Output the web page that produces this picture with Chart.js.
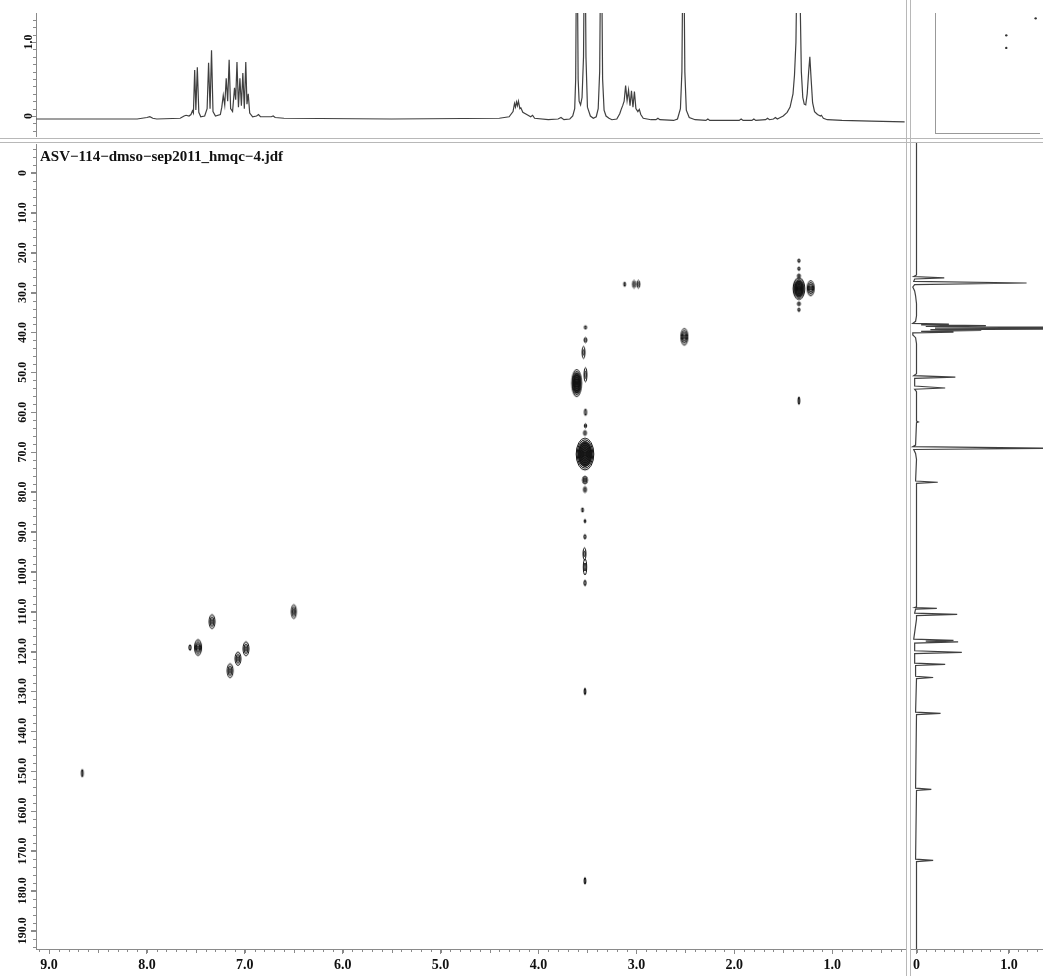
<!DOCTYPE html>
<html><head><meta charset="utf-8">
<script src="https://cdn.jsdelivr.net/npm/chart.js@4.4.1/dist/chart.umd.min.js"></script>
<style>
html,body{margin:0;padding:0;background:#fff;}
#wrap{position:relative;width:1043px;height:976px;overflow:hidden;background:#fff;}
canvas{position:absolute;}
.vl{position:absolute;top:0;height:976px;width:0;border-left:1px solid #b8b8b8;}
.hl{position:absolute;left:0;width:1043px;height:0;border-top:1px solid #b8b8b8;}
</style></head>
<body><div id="wrap">
<canvas id="top" width="910" height="140" style="left:0;top:0"></canvas>
<canvas id="main" width="910" height="836" style="left:0;top:140px"></canvas>
<canvas id="right" width="137" height="836" style="left:906px;top:140px"></canvas>
<canvas id="corner" width="137" height="140" style="left:906px;top:0"></canvas>
<div class="hl" style="top:138px"></div>
<div class="hl" style="top:142px"></div>
<div class="vl" style="left:906px"></div>
<div class="vl" style="left:910px"></div>
</div>
<script>
// ---------------- DATA ----------------
const fileName = 'ASV\u2212114\u2212dmso\u2212sep2011_hmqc\u22124.jdf';

// 1H (top projection): [shift ppm, intensity]
const protonTrace = [[9.13,-0.04],[8.10,-0.04],[8.00,-0.02],[7.97,-0.01],[7.94,-0.03],[7.90,-0.04],[7.66,-0.03],[7.62,0.00],[7.60,0.01],[7.57,0.00],[7.55,0.02],[7.535,0.07],[7.525,0.04],[7.512,0.62],[7.50,0.08],[7.485,0.66],[7.47,0.05],[7.45,-0.01],[7.41,0.00],[7.385,0.10],[7.37,0.72],[7.355,0.10],[7.34,0.89],[7.325,0.06],[7.30,0.00],[7.25,0.02],[7.235,0.12],[7.22,0.28],[7.205,0.15],[7.19,0.51],[7.175,0.20],[7.16,0.76],[7.145,0.10],[7.125,0.06],[7.105,0.38],[7.093,0.22],[7.08,0.73],[7.065,0.12],[7.05,0.51],[7.035,0.14],[7.02,0.58],[7.005,0.10],[6.99,0.73],[6.978,0.16],[6.965,0.30],[6.95,0.04],[6.92,-0.01],[6.88,0.00],[6.86,0.02],[6.84,-0.01],[6.73,-0.01],[6.71,0.00],[6.69,-0.02],[6.60,-0.03],[5.50,-0.04],[4.40,-0.03],[4.30,-0.01],[4.26,0.06],[4.245,0.17],[4.235,0.12],[4.225,0.19],[4.215,0.14],[4.205,0.20],[4.19,0.10],[4.18,0.11],[4.16,0.05],[4.12,0.02],[4.08,-0.01],[4.06,0.01],[4.04,-0.03],[3.90,-0.05],[3.80,-0.04],[3.77,-0.02],[3.74,-0.05],[3.68,-0.04],[3.65,0.00],[3.63,0.10],[3.62,0.50],[3.608,3.0],[3.595,0.50],[3.585,0.20],[3.57,0.15],[3.555,0.25],[3.54,0.80],[3.527,3.0],[3.515,0.80],[3.50,0.12],[3.49,0.08],[3.47,0.00],[3.44,-0.03],[3.41,-0.01],[3.39,0.10],[3.375,0.60],[3.36,3.0],[3.345,0.50],[3.33,0.08],[3.31,0.00],[3.28,-0.03],[3.25,-0.05],[3.20,-0.04],[3.17,0.03],[3.155,0.09],[3.14,0.14],[3.125,0.20],[3.11,0.41],[3.095,0.21],[3.08,0.35],[3.065,0.14],[3.05,0.34],[3.035,0.12],[3.02,0.33],[3.005,0.10],[2.985,0.06],[2.97,0.09],[2.955,0.02],[2.93,-0.03],[2.85,-0.05],[2.80,-0.05],[2.78,-0.03],[2.76,-0.05],[2.62,-0.06],[2.58,-0.04],[2.55,0.10],[2.535,0.60],[2.52,3.0],[2.505,0.60],[2.49,0.08],[2.46,-0.02],[2.40,-0.05],[2.29,-0.06],[2.27,-0.04],[2.25,-0.06],[1.95,-0.06],[1.93,-0.04],[1.91,-0.06],[1.82,-0.06],[1.80,-0.04],[1.78,-0.06],[1.68,-0.05],[1.66,-0.03],[1.64,-0.05],[1.60,-0.04],[1.58,-0.02],[1.56,-0.04],[1.53,-0.02],[1.50,0.00],[1.46,0.05],[1.43,0.12],[1.40,0.30],[1.385,0.55],[1.37,1.0],[1.36,2.0],[1.345,3.0],[1.33,1.8],[1.315,0.60],[1.30,0.25],[1.285,0.16],[1.27,0.15],[1.255,0.30],[1.24,0.60],[1.228,0.80],[1.215,0.50],[1.20,0.18],[1.18,0.06],[1.15,0.02],[1.12,0.00],[1.11,0.01],[1.09,-0.03],[1.05,-0.05],[0.90,-0.06],[0.60,-0.07],[0.26,-0.08]];

// 13C (right projection): [shift ppm, intensity]
const carbonTrace = [[-7.3,0],[20,0],[25.8,0],[26.2,-0.03],[26.5,0.30],[26.8,-0.02],[27.4,-0.03],[27.8,1.19],[28.2,-0.02],[28.8,-0.04],[29.8,-0.02],[31,-0.01],[33,0],[36,0],[37.4,-0.01],[37.9,-0.04],[38.1,0.35],[38.3,0.05],[38.5,0.75],[38.7,0.10],[38.9,1.8],[39.1,0.20],[39.3,1.7],[39.5,0.15],[39.7,0.70],[39.9,0.05],[40.1,0.40],[40.3,-0.04],[40.8,-0.04],[41.5,-0.01],[43,0],[50.5,0],[51.0,-0.03],[51.4,0.42],[51.7,-0.02],[53.6,-0.02],[54.1,0.31],[54.4,-0.02],[55,0],[62.4,0],[62.6,0.02],[62.8,0],[68.4,-0.01],[68.8,-0.04],[69.2,1.6],[69.5,-0.03],[70.5,-0.01],[72,0],[77.4,-0.01],[77.7,0.23],[78,0],[108.9,0],[109.1,-0.02],[109.3,0.22],[109.5,-0.01],[110.5,-0.02],[110.8,0.44],[111.1,0],[112,0],[117.0,-0.03],[117.3,0.40],[117.5,0.10],[117.7,0.45],[118.0,-0.02],[119.9,-0.02],[120.3,0.49],[120.6,-0.02],[123.0,-0.02],[123.3,0.31],[123.6,-0.01],[126.3,-0.01],[126.6,0.18],[126.9,0],[135.3,-0.01],[135.6,0.26],[135.9,0],[154.3,-0.01],[154.6,0.16],[154.9,0],[172.1,-0.01],[172.4,0.18],[172.7,0],[194.7,0]];

// HMQC cross peaks
const peakH = [7.335,7.478,7.56,6.988,7.07,7.15,6.50,8.66, 3.61,3.525,2.51,1.34,1.22,3.024,2.98,3.12, 1.34,1.34,1.34,1.34,1.34,1.34, 3.52,3.52,3.54,3.52,3.52,3.52,3.525,3.525,3.525,3.55,3.525,3.525,3.53,3.525,3.525,3.525,3.525];
const peakC = [112.5,119.0,119.0,119.3,121.8,124.8,110.0,150.5, 52.7,70.5,41.1,29.0,28.9,27.9,27.9,27.9, 22.0,24.0,25.8,32.8,34.3,57.1, 38.7,41.9,45.0,50.6,60.0,63.4,65.2,77.0,79.4,84.5,87.3,91.2,95.5,98.8,102.8,130.0,177.5];
const peakLevel = [3,4,1,3,3,3,3,1, 7,9,4,7,4,2,2,1, 1,1,2,2,1,1, 1,2,2,2,1,2,2,3,2,1,1,1,2,2,1,1,1];
const peakWidthH = [0.061,0.072,0.02,0.061,0.061,0.061,0.051,0.015, 0.10,0.18,0.072,0.12,0.072,0.03,0.03,0.015, 0.02,0.02,0.03,0.03,0.02,0.015, 0.02,0.03,0.03,0.03,0.02,0.025,0.03,0.05,0.03,0.015,0.015,0.02,0.03,0.035,0.02,0.015,0.015];
const peakWidthC = [3.5,4.0,1.25,3.5,3.3,3.5,3.5,1.75, 6.8,8.0,4.2,5.5,3.8,2.0,2.0,1.0, 0.75,0.75,1.0,1.0,0.75,1.75, 0.75,1.25,3.0,3.5,1.5,1.0,1.25,2.0,1.5,1.0,0.75,1.0,3.0,4.0,1.25,1.5,1.5];

// stray specks in the corner box
const cornerX = [1.0, 1.0, 1.33];
const cornerY = [1.09, 0.92, 1.32];

// tick values / labels
const hTickValues = [9,8,7,6,5,4,3,2,1];
const hTickLabels = ['9.0','8.0','7.0','6.0','5.0','4.0','3.0','2.0','1.0'];
const cTickValues = [0,10,20,30,40,50,60,70,80,90,100,110,120,130,140,150,160,170,180,190];
const cTickLabels = ['0','10.0','20.0','30.0','40.0','50.0','60.0','70.0','80.0','90.0','100.0','110.0','120.0','130.0','140.0','150.0','160.0','170.0','180.0','190.0'];
const topTickValues = [0,1];
const topTickLabels = ['0','1.0'];
const sideTickValues = [0,1];
const sideTickLabels = ['0','1.0'];

// ---------------- RANGES / STYLE ----------------
const H_MIN = 0.256, H_MAX = 9.133;
const C_MIN = -7.26, C_MAX = 194.6;
const I_MIN = -0.27, I_MAX = 1.392;
const S_MIN = -0.0703, S_MAX = 1.3676;
const SERIF = "'Liberation Serif','Times New Roman',serif";
const AX = '#8a8a8a';
const INK = '#111';
const TRACE = '#404040';

const minorTicks = {
  id: 'minorTicks',
  afterDraw(chart, args, opts) {
    const ctx = chart.ctx;
    ctx.save();
    ctx.strokeStyle = opts.color || AX;
    ctx.lineWidth = 1;
    (opts.axes || []).forEach(a => {
      const s = chart.scales[a.id];
      if (!s) return;
      const lo = Math.min(s.min, s.max), hi = Math.max(s.min, s.max);
      const start = Math.ceil(lo / a.step - 1e-9);
      for (let k = start; k * a.step <= hi + 1e-9; k++) {
        const v = k * a.step;
        let len = a.len;
        if (a.mid && Math.abs(v / a.mid - Math.round(v / a.mid)) < 1e-6) len = a.midLen;
        const p = Math.round(s.getPixelForValue(v)) + 0.5;
        ctx.beginPath();
        if (s.isHorizontal()) { ctx.moveTo(p, s.top); ctx.lineTo(p, s.top + len); }
        else { ctx.moveTo(s.right, p); ctx.lineTo(s.right - len, p); }
        ctx.stroke();
      }
    });
    ctx.restore();
  }
};

const fileLabel = {
  id: 'fileLabel',
  afterDraw(chart, args, opts) {
    if (!opts.text) return;
    const ctx = chart.ctx, a = chart.chartArea;
    ctx.save();
    ctx.font = 'bold 15px ' + SERIF;
    ctx.fillStyle = INK;
    ctx.textBaseline = 'middle';
    ctx.textAlign = 'left';
    ctx.fillText(opts.text, a.left + 4, a.top + 13);
    ctx.restore();
  }
};

const glyphCache = {};
function contourGlyph(ctx) {
  const ch = ctx.chart, i = ctx.dataIndex;
  const sx = ch.scales.x, sy = ch.scales.y;
  if (!sx || !sy || i === undefined) return 'circle';
  const rx = Math.max(0.8, Math.abs(sx.getPixelForValue(peakH[i] + peakWidthH[i] / 2) - sx.getPixelForValue(peakH[i])));
  const ry = Math.max(1.2, Math.abs(sy.getPixelForValue(peakC[i] + peakWidthC[i] / 2) - sy.getPixelForValue(peakC[i])));
  const n = peakLevel[i];
  const key = rx.toFixed(1) + '_' + ry.toFixed(1) + '_' + n;
  if (!glyphCache[key]) {
    const c = document.createElement('canvas');
    const w = Math.ceil(rx * 2 + 4), h = Math.ceil(ry * 2 + 4);
    c.width = w; c.height = h;
    const g = c.getContext('2d');
    if (n >= 6) {
      g.fillStyle = 'rgba(10,10,10,0.85)';
      g.beginPath(); g.ellipse(w / 2, h / 2, rx * 0.8, ry * 0.8, 0, 0, Math.PI * 2); g.fill();
    } else if (n >= 3) {
      g.fillStyle = 'rgba(40,40,40,0.35)';
      g.beginPath(); g.ellipse(w / 2, h / 2, rx * 0.7, ry * 0.7, 0, 0, Math.PI * 2); g.fill();
    }
    g.strokeStyle = '#0e0e0e';
    g.lineWidth = n === 1 ? 1.2 : 1;
    for (let k = 1; k <= n; k++) {
      g.beginPath();
      g.ellipse(w / 2, h / 2, Math.max(0.45, rx * k / n), Math.max(0.7, ry * k / n), 0, 0, Math.PI * 2);
      g.stroke();
    }
    glyphCache[key] = c;
  }
  return glyphCache[key];
}

const base = {
  responsive: false, animation: false, devicePixelRatio: 1, events: [],
};
const noPlug = { legend: { display: false }, tooltip: { enabled: false } };

// ---------------- TOP: 1H projection ----------------
new Chart(document.getElementById('top'), {
  type: 'scatter',
  data: { datasets: [{
    data: protonTrace.map(p => ({ x: p[0], y: p[1] })),
    showLine: true, pointRadius: 0, borderColor: TRACE, borderWidth: 1.2, tension: 0
  }]},
  options: Object.assign({}, base, {
    layout: { padding: { top: 13, right: 5, bottom: 4, left: 0 } },
    plugins: Object.assign({}, noPlug, {
      minorTicks: { axes: [{ id: 'y', step: 0.1, len: 3 }] }
    }),
    scales: {
      x: { type: 'linear', reverse: true, min: H_MIN, max: H_MAX, display: false },
      y: {
        type: 'linear', min: I_MIN, max: I_MAX,
        afterBuildTicks: s => { s.ticks = topTickValues.map(v => ({ value: v })); },
        afterFit: s => { s.width = 36; },
        ticks: { callback: (v, i) => topTickLabels[i], autoSkip: false, minRotation: 90, maxRotation: 90,
                 crossAlign: 'center', padding: -5.5, color: INK,
                 font: { family: SERIF, weight: 'bold', size: 12, lineHeight: 1 } },
        grid: { drawOnChartArea: false, drawTicks: true, tickLength: 5, color: AX },
        border: { color: AX, width: 1 }
      }
    }
  }),
  plugins: [minorTicks]
});

// ---------------- MAIN: HMQC 2D ----------------
new Chart(document.getElementById('main'), {
  type: 'scatter',
  data: { datasets: [{
    data: peakH.map((h, i) => ({ x: h, y: peakC[i] })),
    pointStyle: contourGlyph, pointRadius: 3, pointHoverRadius: 3,
    backgroundColor: '#111', borderColor: '#111'
  }]},
  options: Object.assign({}, base, {
    layout: { padding: { top: 3, right: 5, bottom: 0, left: 0 } },
    plugins: Object.assign({}, noPlug, {
      fileLabel: { text: fileName },
      minorTicks: { axes: [
        { id: 'x', step: 0.1, len: 3, mid: 0.5, midLen: 4 },
        { id: 'y', step: 2, len: 3, mid: 10, midLen: 5 }
      ] }
    }),
    scales: {
      x: {
        type: 'linear', reverse: true, min: H_MIN, max: H_MAX, position: 'bottom',
        afterBuildTicks: s => { s.ticks = hTickValues.map(v => ({ value: v })); },
        afterFit: s => { s.height = 27; },
        ticks: { callback: (v, i) => hTickLabels[i], autoSkip: false, maxRotation: 0, padding: 3, color: INK,
                 font: { family: SERIF, weight: 'bold', size: 14 } },
        grid: { drawOnChartArea: false, drawTicks: true, tickLength: 5, color: AX },
        border: { color: AX, width: 1 }
      },
      y: {
        type: 'linear', reverse: true, min: C_MIN, max: C_MAX,
        afterBuildTicks: s => { s.ticks = cTickValues.map(v => ({ value: v })); },
        afterFit: s => { s.width = 36; },
        ticks: { callback: (v, i) => cTickLabels[i], autoSkip: false, minRotation: 90, maxRotation: 90,
                 crossAlign: 'center', padding: -5.5, color: INK,
                 font: { family: SERIF, weight: 'bold', size: 12, lineHeight: 1 } },
        grid: { drawOnChartArea: false, drawTicks: true, tickLength: 5, color: AX },
        border: { color: AX, width: 1 }
      }
    }
  }),
  plugins: [minorTicks, fileLabel]
});

// ---------------- RIGHT: 13C projection ----------------
new Chart(document.getElementById('right'), {
  type: 'scatter',
  data: { datasets: [{
    data: carbonTrace.map(p => ({ x: p[1], y: p[0] })),
    showLine: true, pointRadius: 0, borderColor: TRACE, borderWidth: 1.2, tension: 0
  }]},
  options: Object.assign({}, base, {
    layout: { padding: { top: 3, right: 0, bottom: 0, left: 4 } },
    plugins: Object.assign({}, noPlug, {
      minorTicks: { axes: [{ id: 'x', step: 0.1, len: 3, mid: 0.5, midLen: 4 }] }
    }),
    scales: {
      x: {
        type: 'linear', min: S_MIN, max: S_MAX, position: 'bottom',
        afterBuildTicks: s => { s.ticks = sideTickValues.map(v => ({ value: v })); },
        afterFit: s => { s.height = 27; },
        ticks: { callback: (v, i) => sideTickLabels[i], autoSkip: false, maxRotation: 0, padding: 3, color: INK,
                 font: { family: SERIF, weight: 'bold', size: 14 } },
        grid: { drawOnChartArea: false, drawTicks: true, tickLength: 5, color: AX },
        border: { color: AX, width: 1 }
      },
      y: { type: 'linear', reverse: true, min: C_MIN, max: C_MAX, display: false }
    }
  }),
  plugins: [minorTicks]
});

// ---------------- CORNER box ----------------
new Chart(document.getElementById('corner'), {
  type: 'scatter',
  data: { datasets: [{
    data: cornerX.map((x, i) => ({ x: x, y: cornerY[i] })),
    pointRadius: 1.2, backgroundColor: '#333', borderColor: '#333', borderWidth: 0
  }]},
  options: Object.assign({}, base, {
    layout: { padding: { top: 13, right: 0, bottom: 7, left: 29 } },
    plugins: noPlug,
    scales: {
      x: { type: 'linear', min: 0.2, max: S_MAX, afterFit: s => { s.height = 0; },
           ticks: { display: false }, grid: { display: false, drawTicks: false }, border: { display: true, color: '#999' } },
      y: { type: 'linear', min: -0.23, max: I_MAX, afterFit: s => { s.width = 0; },
           ticks: { display: false }, grid: { display: false, drawTicks: false }, border: { display: true, color: '#999' } }
    }
  })
});
</script>
</body></html>
